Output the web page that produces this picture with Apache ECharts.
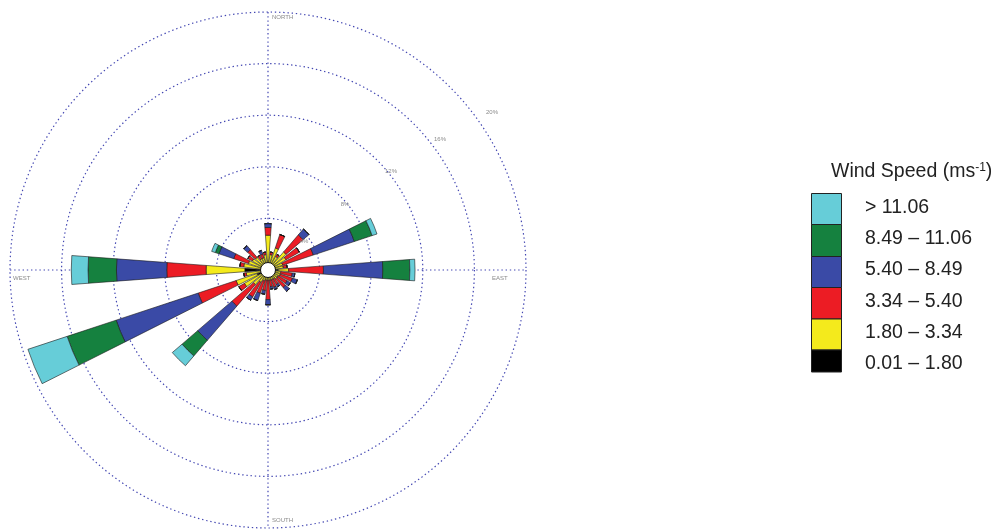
<!DOCTYPE html>
<html>
<head>
<meta charset="utf-8">
<script src="https://cdn.jsdelivr.net/npm/echarts@6/dist/echarts.min.js"></script>
<style>
  html, body { margin: 0; padding: 0; background: #fff; }
  #chart { width: 994px; height: 529px; }
</style>
</head>
<body>
<div id="chart"></div>
<script>
// 32 direction sectors, clockwise from north (11.25° each)
const directions = Array.from({ length: 32 }, (_, i) => (i * 11.25).toFixed(2));

// Frequency (%) of each wind-speed class per direction sector
const spd001180 = [0.5,0.4,0.4,0.4,0.4,0.4,0.5,0.4,0.8,0.4,0.4,0.4,0.4,0.4,0.4,0.4,0.4,0.4,0.4,0.4,0.5,0.5,0.9,0.5,1.8,0.5,0.5,0.4,0.4,0.4,0.4,0.4];
const spd180334 = [2.2,0.8,1.4,0.8,1.45,1.2,0.7,0.8,0.8,0.6,0.6,0.5,0.5,0.4,0.4,0.4,0.4,0.4,0.5,0.7,1.0,1.6,1.7,1.2,3.0,1.4,1.1,1.0,0.9,0.6,0.6,0.8];
const spd334540 = [0.6,0.2,1.1,0.2,1.75,1.2,2.5,0.3,2.7,0.9,1.0,0.8,0.9,0.5,0.6,0.5,1.5,0.8,1.0,1.3,2.2,0.5,3.1,0.2,3.05,0.3,1.2,0.4,0.8,0.3,0.3,0.2];
const spd540849 = [0.3,0,0,0,0.6,0,3.35,0,4.6,0.2,0.4,0.3,0.4,0.2,0.2,0.2,0.4,0.3,0.6,0.3,3.5,0,6.7,0,3.9,0,1.2,0,0.4,0,0.3,0];
const spd8491106 = [0,0,0,0,0,0,1.45,0,2.1,0,0,0,0,0,0,0,0,0,0,0,1.6,0,4.0,0,2.2,0,0.3,0,0,0,0,0];
const spdOver1106 = [0,0,0,0,0,0,0.4,0,0.4,0,0,0,0,0,0,0,0,0,0,0,1.0,0,3.2,0,1.3,0,0.3,0,0,0,0,0];

const classLabels = ['0.01 \u2013 1.80', '1.80 \u2013 3.34', '3.34 \u2013 5.40', '5.40 \u2013 8.49', '8.49 \u2013 11.06', '> 11.06'];
const classColors = ['#000000', '#f4ea1c', '#ec1c24', '#3a4aa6', '#15813f', '#66cdd8'];
const classData = [spd001180, spd180334, spd334540, spd540849, spd8491106, spdOver1106];

const ringTicks = [4, 8, 12, 16, 20];
const ringLabels = ['4%', '8%', '12%', '16%', '20%'];
const compassNames = ['NORTH', 'EAST', 'SOUTH', 'WEST'];

const cx = 268, cy = 270, R = 258;
const gridColor = '#4347b2';
const gridDash = [1.4, 2.8];

const chart = echarts.init(document.getElementById('chart'), null, { renderer: 'canvas' });

const series = classData.map((vals, i) => ({
  type: 'bar',
  coordinateSystem: 'polar',
  stack: 'rose',
  name: classLabels[i],
  data: vals,
  barCategoryGap: '25%',
  itemStyle: { color: classColors[i], borderColor: '#1a1a1a', borderWidth: 0.6 },
  silent: true,
  animation: false
}));

// graphic elements: cross lines, ring labels, compass names, calm circle, legend
const graphics = [];
graphics.push({ type: 'line', z: -10, shape: { x1: cx - R, y1: cy, x2: cx + R, y2: cy },
  style: { stroke: gridColor, lineWidth: 1.2, lineDash: gridDash } });
graphics.push({ type: 'line', z: -10, shape: { x1: cx, y1: cy - R, x2: cx, y2: cy + R },
  style: { stroke: gridColor, lineWidth: 1.2, lineDash: gridDash } });

// ring percentage labels sit just beyond each ring, north-east of centre
const ringLabelPos = [[304, 241], [345, 204], [391, 171], [440, 139], [492, 112]];
ringLabels.forEach((t, i) => {
  graphics.push({ type: 'text', z: 50, x: ringLabelPos[i][0], y: ringLabelPos[i][1],
    style: { text: t, fill: '#8a8a8a', font: '6px "Liberation Sans"', textAlign: 'center', textVerticalAlign: 'middle' } });
});
const compassPos = [[cx + 4, cy - R + 5], [cx + R - 34, cy + 8], [cx + 4, cy + R - 8], [cx - R + 3, cy + 8]];
compassNames.forEach((n, i) => {
  graphics.push({ type: 'text', z: 50, x: compassPos[i][0], y: compassPos[i][1],
    style: { text: n, fill: '#8a8a8a', font: '6px "Liberation Sans"', textAlign: 'left', textVerticalAlign: 'middle' } });
});
graphics.push({ type: 'circle', z: 100, shape: { cx: cx, cy: cy, r: 7.5 },
  style: { fill: '#ffffff', stroke: '#111111', lineWidth: 1 } });

// legend, top class first
graphics.push({ type: 'text', z: 50, x: 831, y: 172,
  style: { rich: {
      a: { fontSize: 19.5, fontFamily: 'Liberation Sans', fill: '#222' },
      s: { fontSize: 12, fontFamily: 'Liberation Sans', fill: '#222', verticalAlign: 'top', padding: [0, 0, 9, 0] }
    },
    text: '{a|Wind Speed (ms}{s|-1}{a|)}', textVerticalAlign: 'middle' } });
const boxTops = [193.5, 224.5, 256.5, 287.5, 319, 350];
const boxH = [31, 32, 31, 31.5, 31, 22];
const textMid = [207.5, 238.5, 270, 301.5, 333, 363.5];
for (let j = 0; j < 6; j++) {
  const ci = 5 - j;
  graphics.push({ type: 'rect', z: 50, shape: { x: 811.5, y: boxTops[j], width: 30, height: boxH[j] },
    style: { fill: classColors[ci], stroke: '#222', lineWidth: 1 } });
  graphics.push({ type: 'text', z: 50, x: 865, y: textMid[j],
    style: { text: classLabels[ci], fill: '#222', font: '19.5px "Liberation Sans"', textVerticalAlign: 'middle' } });
}

chart.setOption({
  animation: false,
  backgroundColor: '#ffffff',
  polar: { center: [cx, cy], radius: R },
  angleAxis: {
    type: 'category',
    data: directions,
    startAngle: 90 + 11.25 / 2,
    clockwise: true,
    boundaryGap: true,
    axisLine: { show: false },
    axisTick: { show: false },
    axisLabel: { show: false },
    splitLine: { show: false }
  },
  radiusAxis: {
    type: 'value',
    min: 0,
    max: 20,
    interval: 4,
    axisLine: { show: false },
    axisTick: { show: false },
    axisLabel: { show: false },
    splitLine: { show: false }
  },
  series: series,
  graphic: graphics
});

// dotted rings drawn from the radius scale
const ringEls = ringTicks.map(t => {
  const p = chart.convertToPixel({ polarIndex: 0 }, [t, directions[0]]);
  const r = Math.hypot(p[0] - cx, p[1] - cy);
  return { type: 'circle', z: -10, shape: { cx: cx, cy: cy, r: r },
    style: { fill: null, stroke: gridColor, lineWidth: 1.2, lineDash: gridDash } };
});
chart.setOption({ graphic: graphics.concat(ringEls) });
</script>
</body>
</html>
